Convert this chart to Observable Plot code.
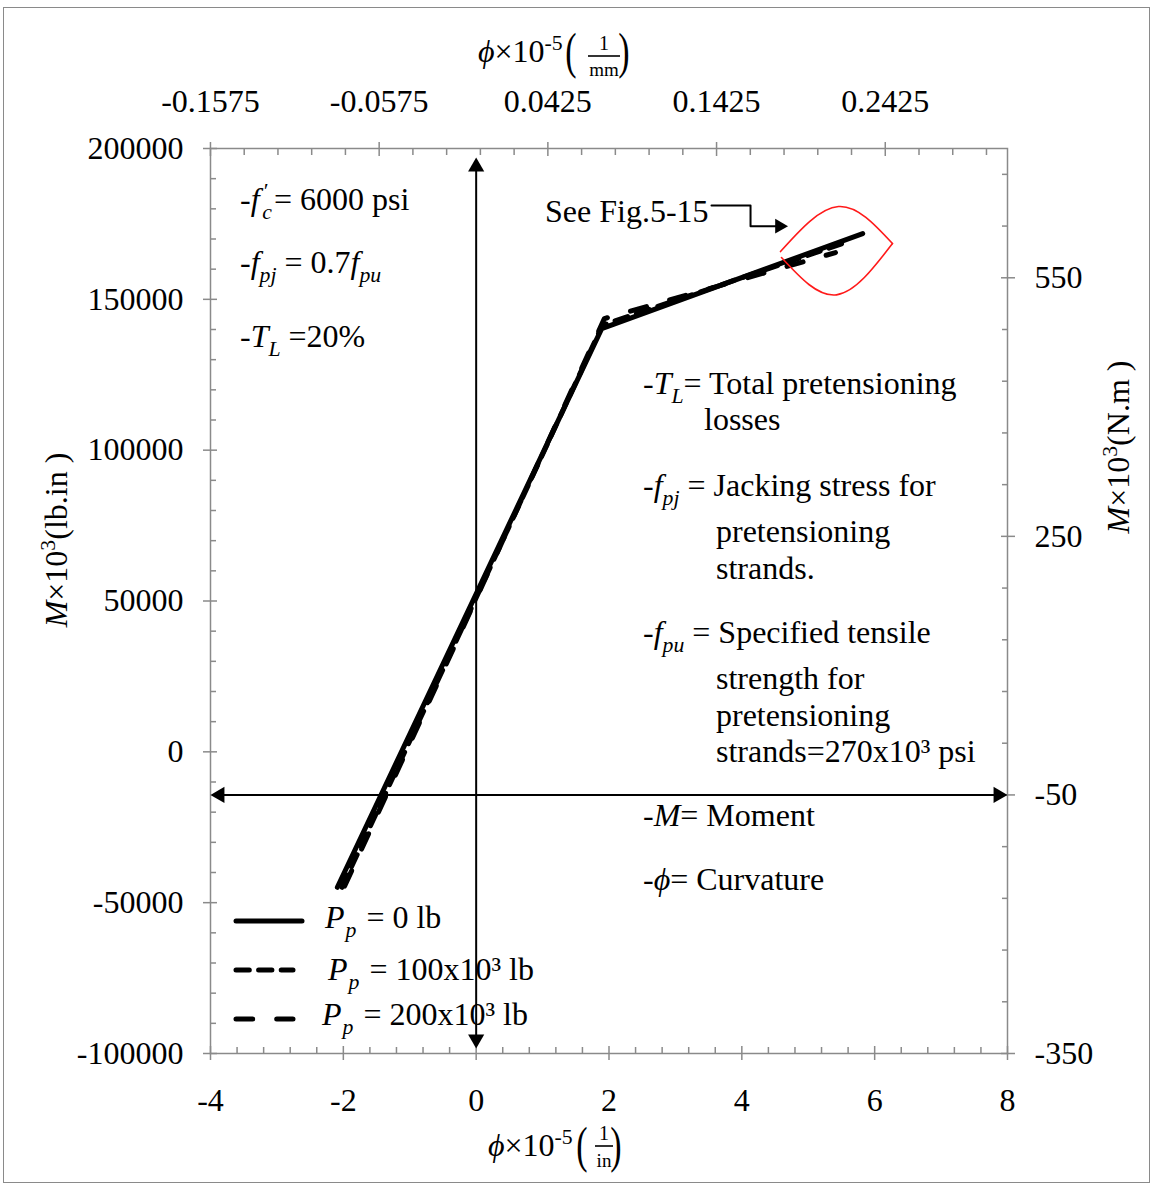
<!DOCTYPE html>
<html>
<head>
<meta charset="utf-8">
<script src="https://cdn.jsdelivr.net/npm/d3@7"></script>
<script src="https://cdn.jsdelivr.net/npm/@observablehq/plot@0.6"></script>
<style>
html, body { margin: 0; padding: 0; background: #fff; }
#wrap { position: relative; width: 1153px; height: 1186px; overflow: hidden; }
#border { position: absolute; left: 3px; top: 7px; width: 1145px; height: 1174px; border: 1.5px solid #8a8a8a; pointer-events: none; }
#wrap svg { position: absolute; left: 0; top: 0; }
</style>
</head>
<body>
<div id="wrap"><div id="border"></div></div>
<script>
// ---- Data (curvature phi x1e-5 1/in, moment M x1e3 lb.in) ----
const phiP0 = [-2.09, 1.89, 5.82];
const momP0 = [-44900, 140300, 171800];
const phiP100 = [-2.02, 1.90, 5.62];
const momP100 = [-44900, 141400, 169300];
const phiP200 = [-1.98, 1.93, 5.41];
const momP200 = [-44500, 143600, 165500];
const seriesKeys = ["0", "100", "200"];

// ---- Tick labels ----
const xTicks = [-4, -2, 0, 2, 4, 6, 8];
const yTicks = [-100000, -50000, 0, 50000, 100000, 150000, 200000];
const topTicks = [-0.1575, -0.0575, 0.0425, 0.1425, 0.2425];   // 1/mm
const rightTicks = [-350, -50, 250, 550];                        // N.m x1e3

// ---- Annotation geometry (data units) ----
const calloutPhi = [3.543, 4.131, 4.131, 4.567];
const calloutM = [181100, 181100, 174250, 174250];
const lensTopPhi = [4.582, 5.455, 6.268];
const lensTopM = [165840, 180760, 168490];
const lensBotPhi = [6.268, 5.425, 4.597];
const lensBotM = [168490, 151490, 163850];

const IN_PER_MM = 25.4;
const RIGHT_PER_LEFT = 0.0035;

const rows = [];
[[phiP0, momP0], [phiP100, momP100], [phiP200, momP200]].forEach(([px, py], k) =>
  px.forEach((v, i) => rows.push({phi: v, M: py[i], s: seriesKeys[k]})));

const callout = calloutPhi.map((v, i) => ({phi: v, M: calloutM[i]}));
const lens = [
  ...lensTopPhi.map((v, i) => ({phi: v, M: lensTopM[i], z: "t"})),
  ...lensBotPhi.map((v, i) => ({phi: v, M: lensBotM[i], z: "b"}))
];

const xMinor = d3.range(0, 31).map(i => -4 + i * 0.4).filter((v, i) => i % 5 !== 0);
const yMinor = d3.range(0, 31).map(i => -100000 + i * 10000).filter((v, i) => i % 5 !== 0);
const topMajorPos = topTicks.map(t => t * IN_PER_MM);
const topMinorPos = d3.range(0, 24).filter(i => i % 5 !== 0).map(i => (-0.1575 + i * 0.02) * IN_PER_MM).filter(x => x <= 8);
const rightMajorPos = rightTicks.map(r => r / RIGHT_PER_LEFT);
const rightMinorPos = d3.range(0, 18).filter(i => i % 5 !== 0).map(i => (-350 + i * 60) / RIGHT_PER_LEFT);
const arrowY = -50 / RIGHT_PER_LEFT;

const GRAY = "#8a8a8a";
const FONT = "Liberation Serif";
const FS = 32;

const ticksX = (data, opts) => Plot.axisX(data, {label: null, fill: "none", stroke: GRAY, strokeWidth: 1.5, ...opts});
const ticksY = (data, opts) => Plot.axisY(data, {label: null, fill: "none", stroke: GRAY, strokeWidth: 1.5, ...opts});
const textX = (data, opts) => Plot.axisX(data, {label: null, tickSize: 0, stroke: "none", fill: "black", fontSize: FS, fontFamily: FONT, ...opts});
const textY = (data, opts) => Plot.axisY(data, {label: null, tickSize: 0, stroke: "none", fill: "black", fontSize: FS, fontFamily: FONT, ...opts});

const plot = Plot.plot({
  width: 1153, height: 1186,
  marginLeft: 210, marginRight: 146, marginTop: 148, marginBottom: 133,
  x: {domain: [-4, 8], axis: null},
  y: {domain: [-100000, 200000], axis: null},
  style: {fontFamily: FONT, fontSize: FS + "px", background: "transparent", color: "black"},
  marks: [
    Plot.frame({stroke: GRAY, strokeWidth: 1.5}),
    // bottom axis
    ticksX(xTicks, {anchor: "bottom", tickSize: 14, dy: -7}),
    ticksX(xMinor, {anchor: "bottom", tickSize: 6, dy: -6}),
    textX(xTicks, {anchor: "bottom", tickPadding: 35, tickFormat: d => String(d)}),
    // top axis (1/mm)
    ticksX(topMajorPos, {anchor: "top", tickSize: 14, dy: 7}),
    ticksX(topMinorPos, {anchor: "top", tickSize: 6, dy: 6}),
    textX(topMajorPos, {anchor: "top", tickPadding: 37, tickFormat: d => (d / IN_PER_MM).toFixed(4)}),
    // left axis
    ticksY(yTicks, {anchor: "left", tickSize: 14, dx: 7}),
    ticksY(yMinor, {anchor: "left", tickSize: 6, dx: 6}),
    textY(yTicks, {anchor: "left", tickPadding: 27, tickFormat: d => String(d)}),
    // right axis (N.m)
    ticksY(rightMajorPos, {anchor: "right", tickSize: 14, dx: -7}),
    ticksY(rightMinorPos, {anchor: "right", tickSize: 6, dx: -6}),
    textY(rightMajorPos, {anchor: "right", tickPadding: 27, tickFormat: d => String(Math.round(d * RIGHT_PER_LEFT))}),
    // coordinate arrows
    Plot.ruleX([0], {stroke: "black", strokeWidth: 2, insetTop: 18, insetBottom: 12}),
    Plot.ruleY([arrowY], {stroke: "black", strokeWidth: 2, insetLeft: 8, insetRight: 8}),
    Plot.dot([0], {x: d => d, frameAnchor: "top", dy: 9 + 9.3, symbol: "triangle", r: 6, fill: "black", rotate: 0}),
    Plot.dot([0], {x: d => d, frameAnchor: "bottom", dy: -5 - 9.3, symbol: "triangle", r: 6, fill: "black", rotate: 180}),
    Plot.dot([arrowY], {y: d => d, frameAnchor: "left", dx: 9.3, symbol: "triangle", r: 6, fill: "black", rotate: -90}),
    Plot.dot([arrowY], {y: d => d, frameAnchor: "right", dx: -9.3, symbol: "triangle", r: 6, fill: "black", rotate: 90}),
    // series
    Plot.line(rows.filter(d => d.s === "200"), {x: "phi", y: "M", stroke: "black", strokeWidth: 5, strokeLinecap: "round", strokeDasharray: "16.7,24"}),
    Plot.line(rows.filter(d => d.s === "100"), {x: "phi", y: "M", stroke: "black", strokeWidth: 5, strokeLinecap: "round", strokeDasharray: "13.3,9.3"}),
    Plot.line(rows.filter(d => d.s === "0"), {x: "phi", y: "M", stroke: "black", strokeWidth: 5, strokeLinecap: "round"}),
    // callout to Fig.5-15
    Plot.line(callout, {x: "phi", y: "M", stroke: "black", strokeWidth: 2}),
    Plot.dot(callout.slice(-1), {x: "phi", y: "M", symbol: "triangle", r: 5.5, fill: "black", rotate: 90}),
    Plot.line(lens, {x: "phi", y: "M", z: "z", stroke: "#ff1a1a", strokeWidth: 1.6, curve: "natural"})
  ]
});

document.getElementById("wrap").appendChild(plot);

// ---- rich text (subscripts / italics) ----
const svg = d3.select(plot);
const g = svg.append("g").attr("font-family", FONT).attr("fill", "black");

function rich(parent, x, y, parts, {size = FS, anchor = "start", transform = null} = {}) {
  const t = parent.append("text").attr("font-size", size).attr("text-anchor", anchor).style("white-space", "pre");
  if (transform) t.attr("transform", transform); else t.attr("x", x).attr("y", y);
  let cur = 0;
  for (const p0 of parts) {
    const p = typeof p0 === "string" ? {t: p0} : p0;
    const target = p.sub ? 0.28 * size : p.sup ? -0.38 * size : 0;
    const ts = t.append("tspan").attr("dy", target - cur).text(p.t);
    cur = target;
    if (p.i) ts.attr("font-style", "italic");
    if (p.sub || p.sup) ts.attr("font-size", size * 0.68);
    if (p.dx) ts.attr("dx", p.dx);
  }
  return t;
}

// left-top notes
rich(g, 240, 210, ["-", {t: "f", i: 1}, {t: "′", sup: 1, i: 1, dx: 3}, {t: "c", sub: 1, i: 1, dx: -5}, {t: "= 6000 psi", dx: 2}]);
rich(g, 240, 273, ["-", {t: "f", i: 1}, {t: "pj", sub: 1, i: 1}, " = 0.7", {t: "f", i: 1}, {t: "pu", sub: 1, i: 1}]);
rich(g, 240, 347, ["-", {t: "T", i: 1}, {t: "L", sub: 1, i: 1}, " =20%"]);
rich(g, 545, 222, ["See Fig.5-15"]);

// right notes
rich(g, 643, 394, ["-", {t: "T", i: 1}, {t: "L", sub: 1, i: 1}, "= Total pretensioning"]);
rich(g, 704, 430, ["losses"]);
rich(g, 643, 496, ["-", {t: "f", i: 1}, {t: "pj", sub: 1, i: 1}, " = Jacking stress for"]);
rich(g, 716, 542, ["pretensioning"]);
rich(g, 716, 579, ["strands."]);
rich(g, 643, 643, ["-", {t: "f", i: 1}, {t: "pu", sub: 1, i: 1}, " = Specified tensile"]);
rich(g, 716, 689, ["strength for"]);
rich(g, 716, 726, ["pretensioning"]);
rich(g, 716, 762, ["strands=270x10³ psi"]);
rich(g, 643, 826, ["-", {t: "M", i: 1}, "= Moment"]);
rich(g, 643, 890, ["-", {t: "ϕ", i: 1}, "= Curvature"]);

// legend
const legend = [
  {y: 921, dash: null, tx: 325, ty: 928, label: " = 0 lb"},
  {y: 970, dash: "13.3,9.3", tx: 328, ty: 980, label: " = 100x10³ lb"},
  {y: 1019, dash: "16.7,24", tx: 322, ty: 1025, label: " = 200x10³ lb"}
];
legend.forEach((L, i) => {
  g.append("line").attr("x1", 236).attr("x2", i === 0 ? 302 : 293).attr("y1", L.y).attr("y2", L.y)
    .attr("stroke", "black").attr("stroke-width", 5).attr("stroke-linecap", "round")
    .attr("stroke-dasharray", L.dash);
  rich(g, L.tx, L.ty, [{t: "P", i: 1}, {t: "p", sub: 1, i: 1, dx: 1}, {t: L.label, dx: 2}]);
});

// axis titles
function fracTitle(x0, base, parenL, cx, numY, barY, denY, barHalf, den, parenR) {
  rich(g, x0, base, [{t: "ϕ", i: 1}, "×10", {t: "-5", sup: 1}]);
  g.append("text").attr("font-size", 40).attr("transform", `translate(${parenL},${base + 6}) scale(0.85,1.25)`).text("(");
  g.append("text").attr("font-size", 20).attr("text-anchor", "middle").attr("x", cx).attr("y", numY).text("1");
  g.append("line").attr("x1", cx - barHalf).attr("x2", cx + barHalf).attr("y1", barY).attr("y2", barY).attr("stroke", "black").attr("stroke-width", 1.6);
  g.append("text").attr("font-size", 19).attr("text-anchor", "middle").attr("x", cx).attr("y", denY).text(den);
  g.append("text").attr("font-size", 40).attr("transform", `translate(${parenR},${base + 6}) scale(0.85,1.25)`).text(")");
}
fracTitle(478, 62, 571, 604, 50, 56, 76, 16, "mm", 624);
fracTitle(488, 1156, 582, 604, 1140, 1146, 1167, 9, "in", 616);

rich(g, 0, 0, [{t: "M", i: 1}, "×10", {t: "3", sup: 1}, "(lb.in )"], {anchor: "middle", transform: "translate(67,540) rotate(-90)"});
rich(g, 0, 0, [{t: "M", i: 1}, "×10", {t: "3", sup: 1}, "(N.m )"], {anchor: "middle", transform: "translate(1129,447) rotate(-90)"});
</script>
</body>
</html>
